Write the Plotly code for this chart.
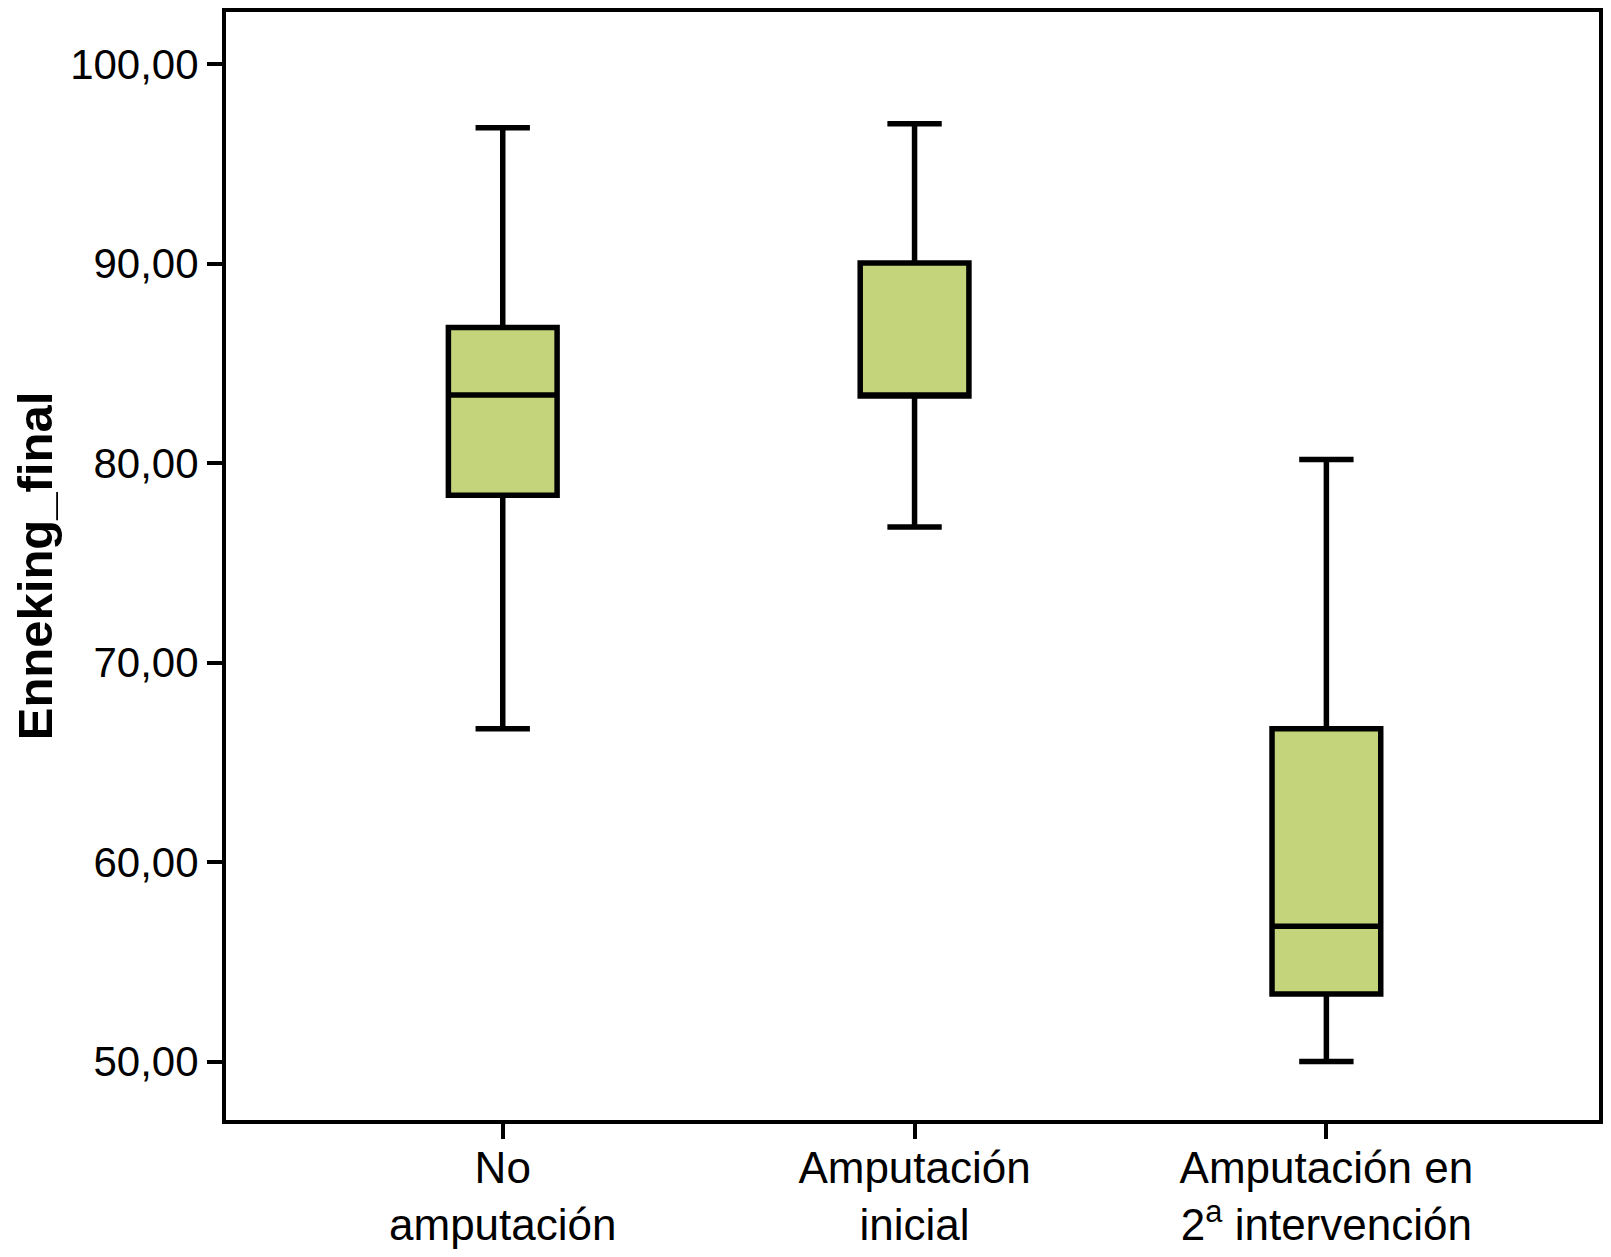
import plotly.graph_objects as go

categories = ["No<br>amputación", "Amputación<br>inicial", "Amputación en<br>2<sup>a</sup> intervención"]
positions = [0, 1, 2]
lower_whisker = [66.68, 76.8, 50.0]
q1 = [78.39, 83.37, 53.39]
median = [83.42, 83.37, 56.78]
q3 = [86.8, 90.04, 66.68]
upper_whisker = [96.82, 97.02, 80.18]
y_ticks = [50, 60, 70, 80, 90, 100]
y_tick_labels = ["50,00", "60,00", "70,00", "80,00", "90,00", "100,00"]

fig = go.Figure()
fig.add_trace(go.Box(
    x=positions,
    q1=q1, median=median, q3=q3,
    lowerfence=lower_whisker, upperfence=upper_whisker,
    fillcolor="#C3D47A",
    line=dict(color="black", width=5.5),
    whiskerwidth=0.5,
    width=0.264,
    boxpoints=False,
    showlegend=False,
    hoverinfo="skip",
))

fig.update_layout(
    width=1595, height=1241,
    margin=dict(l=197, r=2, t=0, b=128),
    plot_bgcolor="white", paper_bgcolor="white",
    font=dict(family="Liberation Sans, Arial, Helvetica, sans-serif", color="black"),
)
fig.update_xaxes(
    range=[-0.672, 2.662],
    tickvals=positions, ticktext=categories,
    ticks="outside", ticklen=15, tickwidth=4, tickcolor="black",
    showline=True, linecolor="black", linewidth=4, mirror=True,
    showgrid=False, zeroline=False,
    tickfont=dict(size=44),
    ticklabelstandoff=-9,
)
fig.update_yaxes(
    range=[47.07, 102.62],
    tickvals=y_ticks, ticktext=y_tick_labels,
    ticks="outside", ticklen=15, tickwidth=4, tickcolor="black",
    showline=True, linecolor="black", linewidth=4, mirror=True,
    showgrid=False, zeroline=False,
    tickfont=dict(size=42),
    title=dict(text="<b>Enneking_final</b>", font=dict(size=49), standoff=28),
)

fig.write_html("out.html")
